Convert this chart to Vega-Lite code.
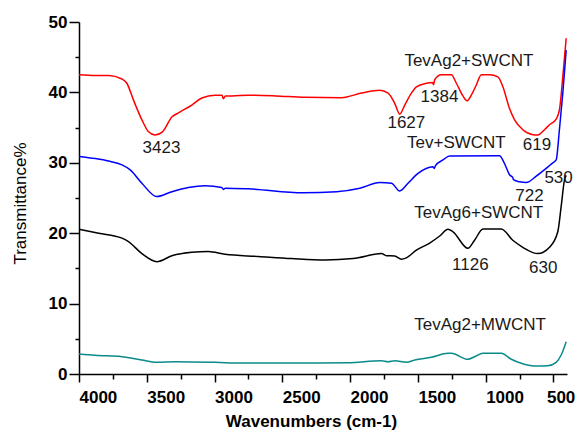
{
  "$schema": "https://vega.github.io/schema/vega-lite/v6.json",
  "width": 488,
  "height": 352,
  "autosize": "none",
  "padding": {"left": 79, "top": 22, "right": 16, "bottom": 59},
  "background": "white",
  "config": {"view": {"stroke": null}, "font": "Liberation Sans"},
  "datasets": {
    "spectra": [
      {"s": "TevAg2+SWCNT", "w": 4000, "t": 42.5}, {"s": "TevAg2+SWCNT", "w": 3880, "t": 42.4}, {"s": "TevAg2+SWCNT", "w": 3782, "t": 42.4}, {"s": "TevAg2+SWCNT", "w": 3683, "t": 41.9}, {"s": "TevAg2+SWCNT", "w": 3647, "t": 41.3}, {"s": "TevAg2+SWCNT", "w": 3598, "t": 38.9}, {"s": "TevAg2+SWCNT", "w": 3536, "t": 36.1}, {"s": "TevAg2+SWCNT", "w": 3487, "t": 34.4}, {"s": "TevAg2+SWCNT", "w": 3440, "t": 33.95}, {"s": "TevAg2+SWCNT", "w": 3384, "t": 34.4}, {"s": "TevAg2+SWCNT", "w": 3315, "t": 36.5}, {"s": "TevAg2+SWCNT", "w": 3266, "t": 37.1}, {"s": "TevAg2+SWCNT", "w": 3168, "t": 38.2}, {"s": "TevAg2+SWCNT", "w": 3094, "t": 39.2}, {"s": "TevAg2+SWCNT", "w": 2996, "t": 39.6}, {"s": "TevAg2+SWCNT", "w": 2945, "t": 39.6}, {"s": "TevAg2+SWCNT", "w": 2935, "t": 39.1}, {"s": "TevAg2+SWCNT", "w": 2920, "t": 39.5}, {"s": "TevAg2+SWCNT", "w": 2873, "t": 39.5}, {"s": "TevAg2+SWCNT", "w": 2751, "t": 39.6}, {"s": "TevAg2+SWCNT", "w": 2550, "t": 39.5}, {"s": "TevAg2+SWCNT", "w": 2333, "t": 39.3}, {"s": "TevAg2+SWCNT", "w": 2063, "t": 39.25}, {"s": "TevAg2+SWCNT", "w": 1916, "t": 39.9}, {"s": "TevAg2+SWCNT", "w": 1781, "t": 40.3}, {"s": "TevAg2+SWCNT", "w": 1720, "t": 39.9}, {"s": "TevAg2+SWCNT", "w": 1671, "t": 38.45}, {"s": "TevAg2+SWCNT", "w": 1634, "t": 36.9}, {"s": "TevAg2+SWCNT", "w": 1597, "t": 38.2}, {"s": "TevAg2+SWCNT", "w": 1548, "t": 39.9}, {"s": "TevAg2+SWCNT", "w": 1511, "t": 40.8}, {"s": "TevAg2+SWCNT", "w": 1437, "t": 41.3}, {"s": "TevAg2+SWCNT", "w": 1392, "t": 41.4}, {"s": "TevAg2+SWCNT", "w": 1384, "t": 41.1}, {"s": "TevAg2+SWCNT", "w": 1376, "t": 41.8}, {"s": "TevAg2+SWCNT", "w": 1327, "t": 42.5}, {"s": "TevAg2+SWCNT", "w": 1253, "t": 42.5}, {"s": "TevAg2+SWCNT", "w": 1216, "t": 41.3}, {"s": "TevAg2+SWCNT", "w": 1168, "t": 39.5}, {"s": "TevAg2+SWCNT", "w": 1138, "t": 38.8}, {"s": "TevAg2+SWCNT", "w": 1106, "t": 39.6}, {"s": "TevAg2+SWCNT", "w": 1069, "t": 41.05}, {"s": "TevAg2+SWCNT", "w": 1032, "t": 42.5}, {"s": "TevAg2+SWCNT", "w": 971, "t": 42.5}, {"s": "TevAg2+SWCNT", "w": 910, "t": 42.2}, {"s": "TevAg2+SWCNT", "w": 873, "t": 40.8}, {"s": "TevAg2+SWCNT", "w": 824, "t": 37.7}, {"s": "TevAg2+SWCNT", "w": 787, "t": 36.1}, {"s": "TevAg2+SWCNT", "w": 726, "t": 34.7}, {"s": "TevAg2+SWCNT", "w": 652, "t": 34.0}, {"s": "TevAg2+SWCNT", "w": 615, "t": 33.95}, {"s": "TevAg2+SWCNT", "w": 566, "t": 34.7}, {"s": "TevAg2+SWCNT", "w": 529, "t": 35.4}, {"s": "TevAg2+SWCNT", "w": 480, "t": 36.2}, {"s": "TevAg2+SWCNT", "w": 456, "t": 37.5}, {"s": "TevAg2+SWCNT", "w": 431, "t": 42.2}, {"s": "TevAg2+SWCNT", "w": 406, "t": 47.7},

      {"s": "Tev+SWCNT", "w": 4000, "t": 30.9}, {"s": "Tev+SWCNT", "w": 3880, "t": 30.6}, {"s": "Tev+SWCNT", "w": 3782, "t": 30.25}, {"s": "Tev+SWCNT", "w": 3683, "t": 29.7}, {"s": "Tev+SWCNT", "w": 3622, "t": 29.0}, {"s": "Tev+SWCNT", "w": 3536, "t": 27.1}, {"s": "Tev+SWCNT", "w": 3426, "t": 25.2}, {"s": "Tev+SWCNT", "w": 3315, "t": 25.9}, {"s": "Tev+SWCNT", "w": 3193, "t": 26.5}, {"s": "Tev+SWCNT", "w": 3070, "t": 26.75}, {"s": "Tev+SWCNT", "w": 2947, "t": 26.5}, {"s": "Tev+SWCNT", "w": 2935, "t": 26.2}, {"s": "Tev+SWCNT", "w": 2920, "t": 26.4}, {"s": "Tev+SWCNT", "w": 2751, "t": 26.3}, {"s": "Tev+SWCNT", "w": 2346, "t": 25.75}, {"s": "Tev+SWCNT", "w": 2100, "t": 25.9}, {"s": "Tev+SWCNT", "w": 1928, "t": 26.4}, {"s": "Tev+SWCNT", "w": 1781, "t": 27.2}, {"s": "Tev+SWCNT", "w": 1695, "t": 27.1}, {"s": "Tev+SWCNT", "w": 1634, "t": 26.0}, {"s": "Tev+SWCNT", "w": 1573, "t": 27.1}, {"s": "Tev+SWCNT", "w": 1499, "t": 28.5}, {"s": "Tev+SWCNT", "w": 1389, "t": 29.45}, {"s": "Tev+SWCNT", "w": 1380, "t": 29.2}, {"s": "Tev+SWCNT", "w": 1370, "t": 29.6}, {"s": "Tev+SWCNT", "w": 1315, "t": 30.4}, {"s": "Tev+SWCNT", "w": 1266, "t": 30.97}, {"s": "Tev+SWCNT", "w": 898, "t": 31.0}, {"s": "Tev+SWCNT", "w": 861, "t": 29.9}, {"s": "Tev+SWCNT", "w": 824, "t": 28.3}, {"s": "Tev+SWCNT", "w": 800, "t": 27.9}, {"s": "Tev+SWCNT", "w": 795, "t": 27.6}, {"s": "Tev+SWCNT", "w": 750, "t": 27.3}, {"s": "Tev+SWCNT", "w": 701, "t": 27.2}, {"s": "Tev+SWCNT", "w": 627, "t": 28.1}, {"s": "Tev+SWCNT", "w": 554, "t": 29.2}, {"s": "Tev+SWCNT", "w": 505, "t": 30.0}, {"s": "Tev+SWCNT", "w": 480, "t": 30.4}, {"s": "Tev+SWCNT", "w": 456, "t": 34.7}, {"s": "Tev+SWCNT", "w": 431, "t": 39.9}, {"s": "Tev+SWCNT", "w": 406, "t": 46.0},

      {"s": "TevAg6+SWCNT", "w": 4000, "t": 20.55}, {"s": "TevAg6+SWCNT", "w": 3855, "t": 20.0}, {"s": "TevAg6+SWCNT", "w": 3683, "t": 19.3}, {"s": "TevAg6+SWCNT", "w": 3635, "t": 18.8}, {"s": "TevAg6+SWCNT", "w": 3536, "t": 17.1}, {"s": "TevAg6+SWCNT", "w": 3426, "t": 15.95}, {"s": "TevAg6+SWCNT", "w": 3315, "t": 16.8}, {"s": "TevAg6+SWCNT", "w": 3168, "t": 17.3}, {"s": "TevAg6+SWCNT", "w": 3046, "t": 17.4}, {"s": "TevAg6+SWCNT", "w": 2923, "t": 17.0}, {"s": "TevAg6+SWCNT", "w": 2677, "t": 16.7}, {"s": "TevAg6+SWCNT", "w": 2431, "t": 16.4}, {"s": "TevAg6+SWCNT", "w": 2186, "t": 16.2}, {"s": "TevAg6+SWCNT", "w": 1978, "t": 16.4}, {"s": "TevAg6+SWCNT", "w": 1769, "t": 17.1}, {"s": "TevAg6+SWCNT", "w": 1732, "t": 16.8}, {"s": "TevAg6+SWCNT", "w": 1671, "t": 16.76}, {"s": "TevAg6+SWCNT", "w": 1622, "t": 16.3}, {"s": "TevAg6+SWCNT", "w": 1585, "t": 16.5}, {"s": "TevAg6+SWCNT", "w": 1511, "t": 17.6}, {"s": "TevAg6+SWCNT", "w": 1413, "t": 18.6}, {"s": "TevAg6+SWCNT", "w": 1339, "t": 19.6}, {"s": "TevAg6+SWCNT", "w": 1278, "t": 20.55}, {"s": "TevAg6+SWCNT", "w": 1241, "t": 20.2}, {"s": "TevAg6+SWCNT", "w": 1131, "t": 17.85}, {"s": "TevAg6+SWCNT", "w": 1082, "t": 19.0}, {"s": "TevAg6+SWCNT", "w": 1020, "t": 20.6}, {"s": "TevAg6+SWCNT", "w": 885, "t": 20.6}, {"s": "TevAg6+SWCNT", "w": 800, "t": 19.0}, {"s": "TevAg6+SWCNT", "w": 726, "t": 18.0}, {"s": "TevAg6+SWCNT", "w": 615, "t": 17.1}, {"s": "TevAg6+SWCNT", "w": 529, "t": 18.0}, {"s": "TevAg6+SWCNT", "w": 468, "t": 20.2}, {"s": "TevAg6+SWCNT", "w": 443, "t": 23.8}, {"s": "TevAg6+SWCNT", "w": 418, "t": 27.6}, {"s": "TevAg6+SWCNT", "w": 406, "t": 28.2},

      {"s": "TevAg2+MWCNT", "w": 4000, "t": 2.84}, {"s": "TevAg2+MWCNT", "w": 3880, "t": 2.65}, {"s": "TevAg2+MWCNT", "w": 3683, "t": 2.46}, {"s": "TevAg2+MWCNT", "w": 3536, "t": 1.99}, {"s": "TevAg2+MWCNT", "w": 3426, "t": 1.66}, {"s": "TevAg2+MWCNT", "w": 3291, "t": 1.75}, {"s": "TevAg2+MWCNT", "w": 2996, "t": 1.66}, {"s": "TevAg2+MWCNT", "w": 2800, "t": 1.56}, {"s": "TevAg2+MWCNT", "w": 2309, "t": 1.56}, {"s": "TevAg2+MWCNT", "w": 2015, "t": 1.61}, {"s": "TevAg2+MWCNT", "w": 1769, "t": 1.89}, {"s": "TevAg2+MWCNT", "w": 1720, "t": 1.75}, {"s": "TevAg2+MWCNT", "w": 1671, "t": 1.89}, {"s": "TevAg2+MWCNT", "w": 1585, "t": 1.66}, {"s": "TevAg2+MWCNT", "w": 1523, "t": 1.99}, {"s": "TevAg2+MWCNT", "w": 1400, "t": 2.37}, {"s": "TevAg2+MWCNT", "w": 1278, "t": 2.94}, {"s": "TevAg2+MWCNT", "w": 1253, "t": 2.94}, {"s": "TevAg2+MWCNT", "w": 1131, "t": 2.09}, {"s": "TevAg2+MWCNT", "w": 1082, "t": 2.46}, {"s": "TevAg2+MWCNT", "w": 1020, "t": 2.94}, {"s": "TevAg2+MWCNT", "w": 885, "t": 2.94}, {"s": "TevAg2+MWCNT", "w": 811, "t": 2.09}, {"s": "TevAg2+MWCNT", "w": 738, "t": 1.52}, {"s": "TevAg2+MWCNT", "w": 640, "t": 1.14}, {"s": "TevAg2+MWCNT", "w": 542, "t": 1.18}, {"s": "TevAg2+MWCNT", "w": 480, "t": 1.66}, {"s": "TevAg2+MWCNT", "w": 443, "t": 2.7}, {"s": "TevAg2+MWCNT", "w": 406, "t": 4.59}
    ],
    "labels": [
      {"label": "3423", "w": 3392, "t": 32.06},
      {"label": "1627", "w": 1585, "t": 35.6},
      {"label": "1384", "w": 1341, "t": 39.4},
      {"label": "TevAg2+SWCNT", "w": 1124, "t": 44.4},
      {"label": "619", "w": 621, "t": 32.5},
      {"label": "Tev+SWCNT", "w": 1216, "t": 32.8},
      {"label": "722", "w": 677, "t": 25.35},
      {"label": "530", "w": 462, "t": 27.9},
      {"label": "TevAg6+SWCNT", "w": 1051, "t": 22.8},
      {"label": "1126", "w": 1113, "t": 15.55},
      {"label": "630", "w": 575, "t": 15.1},
      {"label": "TevAg2+MWCNT", "w": 1041, "t": 6.96}
    ]
  },
  "encoding": {
    "x": {
      "field": "w",
      "type": "quantitative",
      "scale": {"domain": [400, 4000], "reverse": true, "nice": false, "zero": false},
      "axis": {
        "values": [4000, 3750, 3500, 3250, 3000, 2750, 2500, 2250, 2000, 1750, 1500, 1250, 1000, 750, 500],
        "format": "d",
        "labelExpr": "datum.value % 500 == 0 ? datum.label : ''",
        "labelAlign": "left",
        "labelOffset": {"condition": {"test": "datum.value == 500", "value": -7}, "value": 0},
        "labelFont": "Liberation Sans",
        "labelFontSize": 17,
        "labelFontWeight": "bold",
        "labelColor": "black",
        "labelPadding": 7,
        "labelOverlap": false,
        "labelBound": false,
        "labelFlush": false,
        "tickSize": {"condition": {"test": "datum.value % 500 == 0", "value": 8}, "value": 5},
        "tickColor": "black",
        "tickWidth": 1.5,
        "domainColor": "black",
        "domainWidth": 1.5,
        "grid": false,
        "title": "Wavenumbers (cm-1)",
        "titleFont": "Liberation Sans",
        "titleFontSize": 17,
        "titleFontWeight": "bold",
        "titleColor": "black",
        "titleX": 232,
        "titleY": 39,
        "titleBaseline": "top"
      }
    },
    "y": {
      "field": "t",
      "type": "quantitative",
      "scale": {"domain": [0, 50], "nice": false},
      "axis": {
        "values": [0, 5, 10, 15, 20, 25, 30, 35, 40, 45, 50],
        "labelExpr": "datum.value % 10 == 0 ? datum.label : ''",
        "labelFont": "Liberation Sans",
        "labelFontSize": 17,
        "labelFontWeight": "bold",
        "labelColor": "black",
        "labelPadding": 2,
        "labelOverlap": false,
        "labelBound": false,
        "labelFlush": false,
        "tickSize": {"condition": {"test": "datum.value % 10 == 0", "value": 10}, "value": 4},
        "tickColor": "black",
        "tickWidth": 1.5,
        "domainColor": "black",
        "domainWidth": 1.5,
        "grid": false,
        "title": "Transmittance%",
        "titleFont": "Liberation Sans",
        "titleFontSize": 17,
        "titleFontWeight": "normal",
        "titleColor": "black",
        "titleAngle": -90,
        "titleX": -59,
        "titleY": 181,
        "titleAlign": "center",
        "titleBaseline": "middle"
      }
    }
  },
  "layer": [
    {
      "data": {"name": "spectra"},
      "mark": {"type": "line", "strokeWidth": 1.5, "interpolate": "monotone"},
      "encoding": {
        "color": {
          "field": "s",
          "type": "nominal",
          "scale": {"domain": ["TevAg2+SWCNT", "Tev+SWCNT", "TevAg6+SWCNT", "TevAg2+MWCNT"], "range": ["#ff0000", "#0000ff", "#000000", "#0a8a8a"]},
          "legend": null
        }
      }
    },
    {
      "data": {"name": "labels"},
      "mark": {"type": "text", "font": "Liberation Sans", "fontSize": 17, "color": "#1a1a1a", "align": "center", "baseline": "middle"},
      "encoding": {"text": {"field": "label", "type": "nominal"}}
    }
  ]
}
